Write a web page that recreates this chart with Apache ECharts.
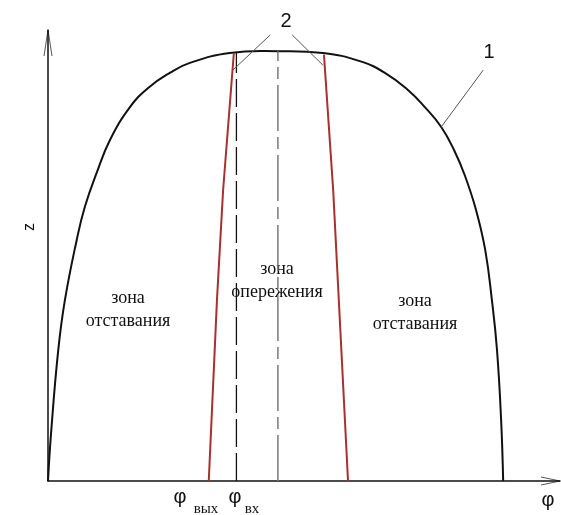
<!DOCTYPE html>
<html>
<head>
<meta charset="utf-8">
<script src="https://cdn.jsdelivr.net/npm/echarts@6/dist/echarts.min.js"></script>
<style>
  html, body { margin: 0; padding: 0; background: #ffffff; }
  #chart { width: 561px; height: 515px; }
</style>
</head>
<body>
<div id="chart"></div>
<script>
// Curve 1: boundary of the contact zone, z against φ
const curvePhi = [0, 0.6, 2.0, 3.3, 5.6, 7.2, 9.5, 12.1, 16.0, 19.5, 23.8, 27.7, 35.5, 44.9,
                  53.7, 60.9, 65.8, 70.3, 73.6, 76.8, 79.3, 81.4, 83.6, 85.4, 86.7, 87.7, 88.5, 88.9];
const curveZ   = [0, 10.6, 29.0, 40.1, 53.4, 60.8, 68.3, 75.6, 82.9, 87.1, 90.5, 92.7, 94.9, 95.3,
                  94.9, 93.1, 90.5, 86.7, 82.9, 78.5, 73.4, 67.8, 60.1, 51.2, 40.1, 29.0, 13.5, 0];

// Lines 2: borders of the lead zone
const exitPhi  = [31.4, 33.0, 34.2, 36.3];
const exitZ    = [0, 40.1, 64.5, 94.9];
const entryPhi = [58.6, 56.8, 55.7, 53.9];
const entryZ   = [0, 40.1, 64.5, 94.5];

// Vertical reference lines: φвх and the symmetry axis
const phiIn = 36.8;
const phiInTop = 94.9;
const phiMid = 44.9;
const phiMidTop = 95.3;

// Callout leaders for labels "1" and "2"
const leader2a = [[43.4, 98.9], [36.1, 91.1]];
const leader2b = [[47.7, 98.9], [53.7, 92.2]];
const leader1  = [[85.0, 91.1], [76.8, 78.5]];

const zip = (xs, ys) => xs.map((x, i) => [x, ys[i]]);
const curveData = zip(curvePhi, curveZ);

const chart = echarts.init(document.getElementById('chart'), null, { renderer: 'canvas' });

const plain = { silent: true, symbol: 'none', animation: false, clip: false };

// Curve 1 is drawn as one smooth path through all of its points
function renderCurve(params, api) {
  if (params.dataIndex !== 0) return null;
  const pts = curveData.map(p => api.coord(p));
  return {
    type: 'polyline',
    shape: { points: pts, smooth: 0.45 },
    style: { stroke: '#111', lineWidth: 2, fill: null },
    silent: true
  };
}

chart.setOption({
  backgroundColor: '#ffffff',
  animation: false,
  grid: { left: 48, right: 1, top: 30, bottom: 34 },
  xAxis: {
    type: 'value', min: 0, max: 100,
    axisLine: { show: true, onZero: false, lineStyle: { color: '#111', width: 1.5 } },
    axisTick: { show: false }, axisLabel: { show: false }, splitLine: { show: false }
  },
  yAxis: {
    type: 'value', min: 0, max: 100,
    axisLine: { show: true, onZero: false, lineStyle: { color: '#111', width: 1.5 } },
    axisTick: { show: false }, axisLabel: { show: false }, splitLine: { show: false }
  },
  series: [
    { type: 'custom', data: curveData, renderItem: renderCurve, silent: true,
      animation: false, clip: false, encode: { x: 0, y: 1 } },
    Object.assign({ type: 'line', data: zip(exitPhi, exitZ),
      lineStyle: { color: '#a8302e', width: 2 } }, plain),
    Object.assign({ type: 'line', data: zip(entryPhi, entryZ),
      lineStyle: { color: '#a8302e', width: 2 } }, plain),
    Object.assign({ type: 'line', data: [[phiIn, 0], [phiIn, phiInTop]],
      lineStyle: { color: '#111', width: 1.3, type: [28, 6] } }, plain),
    Object.assign({ type: 'line', data: [[phiMid, 0], [phiMid, phiMidTop]],
      lineStyle: { color: '#7a7a7a', width: 1.5, type: [46, 6, 12, 6] } }, plain),
    Object.assign({ type: 'line', data: leader2a,
      lineStyle: { color: '#555', width: 1 } }, plain),
    Object.assign({ type: 'line', data: leader2b,
      lineStyle: { color: '#555', width: 1 } }, plain),
    Object.assign({ type: 'line', data: leader1,
      lineStyle: { color: '#555', width: 1 } }, plain)
  ]
});

// Open arrowheads at the axis ends
const yTip = chart.convertToPixel({ gridIndex: 0 }, [0, 100]);
const xTip = chart.convertToPixel({ gridIndex: 0 }, [100, 0]);

const serif = '"Liberation Serif", "DejaVu Serif", serif';
const sans = '"Liberation Sans", Arial, sans-serif';

function label(text, x, y, size, family, lineHeight, extra) {
  return Object.assign({
    type: 'text', x: x, y: y, silent: true,
    style: { text: text, fill: '#111', font: size + 'px ' + family,
      align: 'center', verticalAlign: 'middle', lineHeight: lineHeight }
  }, extra || {});
}

chart.setOption({
  graphic: [
    { type: 'polyline', silent: true,
      shape: { points: [[yTip[0] - 4, yTip[1] + 26], [yTip[0], yTip[1]], [yTip[0] + 4, yTip[1] + 26]] },
      style: { stroke: '#555', lineWidth: 1, fill: null } },
    { type: 'polyline', silent: true,
      shape: { points: [[xTip[0] - 19, xTip[1] - 4], [xTip[0], xTip[1]], [xTip[0] - 19, xTip[1] + 4]] },
      style: { stroke: '#555', lineWidth: 1, fill: null } },
    label('z', 30, 227, 16, sans, 18, { rotation: Math.PI / 2 }),
    label('φ', 548, 500, 20, sans, 22),
    label('φ', 180, 497, 20, sans, 22),
    label('вых', 206, 509, 15, serif, 16),
    label('φ', 235, 497, 20, sans, 22),
    label('вх', 252, 509, 15, serif, 16),
    label('2', 286, 21, 20, sans, 22),
    label('1', 489, 52, 20, sans, 22),
    label('зона\nотставания', 128, 310, 18, serif, 23),
    label('зона\nопережения', 277, 281, 18, serif, 23),
    label('зона\nотставания', 415, 313, 18, serif, 23)
  ]
});
</script>
</body>
</html>
